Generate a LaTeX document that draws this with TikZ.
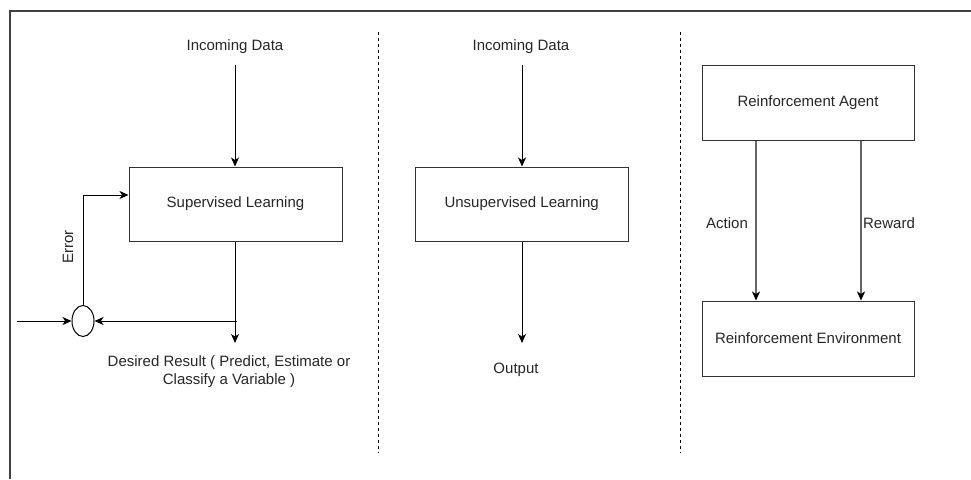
\documentclass[tikz,border=0pt]{standalone}
\usepackage{fontspec}
\setmainfont{Liberation Sans}
\usetikzlibrary{arrows.meta,shapes.geometric}

\tikzset{
  lbl/.style={inner sep=0pt, font=\fontsize{15}{18}\selectfont, text=black!85},
  blk/.style={draw=black!80, line width=1pt, minimum width=213pt, minimum height=74pt,
              inner sep=0pt, font=\fontsize{15}{18}\selectfont, text=black!85},
  arr/.style={draw=black, line width=1pt, -{Stealth[length=9pt,width=8pt,inset=2.5pt]}},
  garr/.style={arr, draw=black!60, line width=1.6pt, -{Stealth[length=9pt,width=8pt,inset=2.5pt,black]}},
  sep/.style={draw=black, line width=0.8pt, dash pattern=on 3pt off 3pt},
  frame/.style={draw=black!75, line width=1.6pt}
}

\begin{document}
\begin{tikzpicture}[x=1pt, y=-1pt]
\useasboundingbox (0,0) rectangle (971,479);

% outer frame (only top and left edges fall inside the page)
\draw[frame] (10,479) -- (10,11) -- (971,11);

% panel separators
\draw[sep] (378,32) -- (378,453);
\draw[sep] (680,32) -- (680,453);

% ---- supervised learning ----
\node[lbl] (in1) at (235,47) {Incoming Data};
\node[blk] (sup) at (235.5,204) {Supervised Learning};
\node[draw=black, line width=1pt, ellipse, minimum width=22pt, minimum height=31pt,
      inner sep=0pt] (cmp) at (83,321) {};
\coordinate (src) at (17,321);
\coordinate (fb) at (237,321);
\coordinate (res) at (235,343);
\node[lbl, align=center, font=\fontsize{15}{18}\selectfont] (des) at (229,372)
  {Desired Result ( Predict, Estimate or\\Classify a Variable )};

\draw[arr] (in1.south |- 0,65) -- (sup.north -| in1.south);
\draw[arr] (sup.south -| res) -- (res);
\draw[arr] (src) -- (cmp.west);
\draw[arr] (fb) -- (cmp.east);
\draw[arr] (cmp.north) |- ([yshift=9pt]sup.west);
\node[lbl, rotate=90] (err) at (68,247) {Error};

% ---- unsupervised learning ----
\node[lbl] (in2) at (521,47) {Incoming Data};
\node[blk] (uns) at (521.7,204) {Unsupervised Learning};
\coordinate (outp) at (522,343);
\node[lbl] (out) at (516,370) {Output};

\draw[arr] (522,65) -- (uns.north -| 522,0);
\draw[arr] (uns.south -| outp) -- (outp);

% ---- reinforcement learning ----
\node[blk, minimum width=212pt, minimum height=75pt] (agt) at (808,102.5) {Reinforcement Agent};
\node[blk, minimum width=212pt, minimum height=75pt] (env) at (808,338.5) {Reinforcement Environment};

\draw[garr] (agt.south -| 756,0) -- (env.north -| 756,0);
\draw[garr] (agt.south -| 861,0) -- (env.north -| 861,0);
\node[lbl] (act) at (727,223) {Action};
\node[lbl] (rew) at (889,223) {Reward};
\end{tikzpicture}
\end{document}
